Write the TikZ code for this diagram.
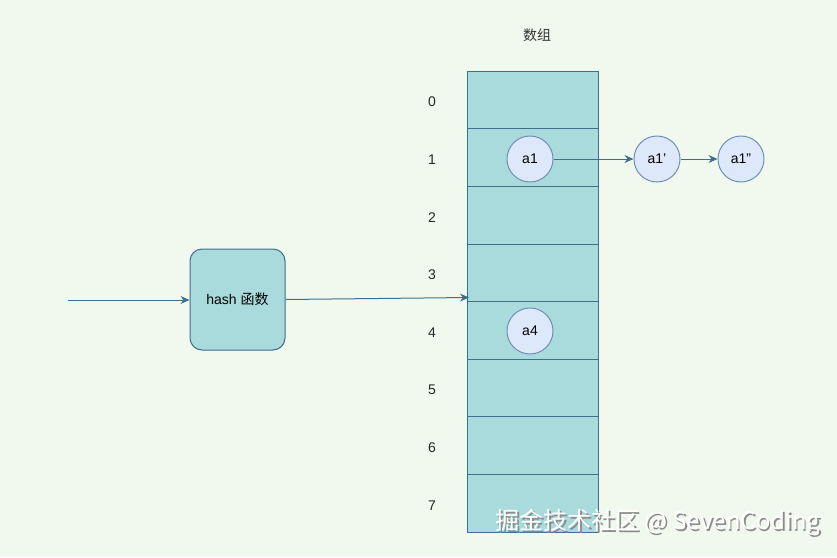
\documentclass[tikz,border=0pt]{standalone}
\usepackage{fontspec}
\setmainfont{Liberation Sans}
\newfontfamily\cjk{Noto Sans CJK SC}
\usetikzlibrary{arrows.meta}
\definecolor{bgcol}{HTML}{F1F9EE}
\definecolor{cellfill}{HTML}{A9DBDC}
\definecolor{celldraw}{HTML}{3F6F8C}
\definecolor{nodefill}{HTML}{DDE8FB}
\definecolor{nodedraw}{HTML}{6F8FB8}
\newcommand{\markline}{掘金技术社区 @ SevenCoding}
\tikzset{
  cellbox/.style={draw=celldraw, line width=1pt, fill=cellfill, minimum width=131pt, minimum height=57.6pt, inner sep=0pt},
  entry/.style={circle, draw=nodedraw, line width=1pt, fill=nodefill, minimum size=46pt, inner sep=0pt, font=\fontsize{14}{16}\selectfont},
  idx/.style={font=\fontsize{14}{16}\selectfont, text=black!85},
  link/.style={draw=celldraw, line width=1pt, -{Stealth[length=9pt, width=8pt]}},
}
\begin{document}
\begin{tikzpicture}[x=1pt, y=-1pt]
    % Fondo
    \fill[bgcol] (0,0) rectangle (837,557);
    \useasboundingbox (0,0) rectangle (837,557);

    % Arreglo (8 celdas)
    \foreach \i in {0,...,7} {
        \node[cellbox] (cell\i) at (532.5, 100+57.6*\i) {};
        \node[idx] (idx\i) at (432, 102+57.6*\i) {\i};
    }
    \node[font=\cjk\fontsize{14}{16}\selectfont, text=black!80] (title) at (537, 35) {数组};

    % Funcion hash
    \node[draw=celldraw, line width=1pt, fill=cellfill, rounded corners=12pt, minimum width=95pt,
          minimum height=101pt, font=\fontsize{14}{16}\selectfont] (hash) at (237.5, 299.5)
          {hash {\cjk 函数}};
    \coordinate (input) at (68, 300);
    \coordinate (slot) at (469, 297.5);
    \draw[link] (input) -- (hash.west |- input);
    \draw[link] (hash.east) -- (slot);

    % Elementos
    \node[entry] (a1) at (530, 159) {a1};
    \node[entry] (a4) at (530, 331) {a4};
    \node[entry] (a1p) at (657, 159) {a1\symbol{"27}};
    \node[entry] (a1pp) at (741, 159) {a1\symbol{"22}};
    \draw[link] (a1) -- (a1p);
    \draw[link] (a1p) -- (a1pp);

    % Marca de agua
    \node[font=\cjk\fontsize{24}{27}\selectfont, anchor=west, inner sep=0pt] (mark) at (495, 523)
          {\rlap{\hspace{1.8pt}\raisebox{-1.8pt}{\color{black!45}\markline}}\textcolor{white}{\markline}};
\end{tikzpicture}
\end{document}
